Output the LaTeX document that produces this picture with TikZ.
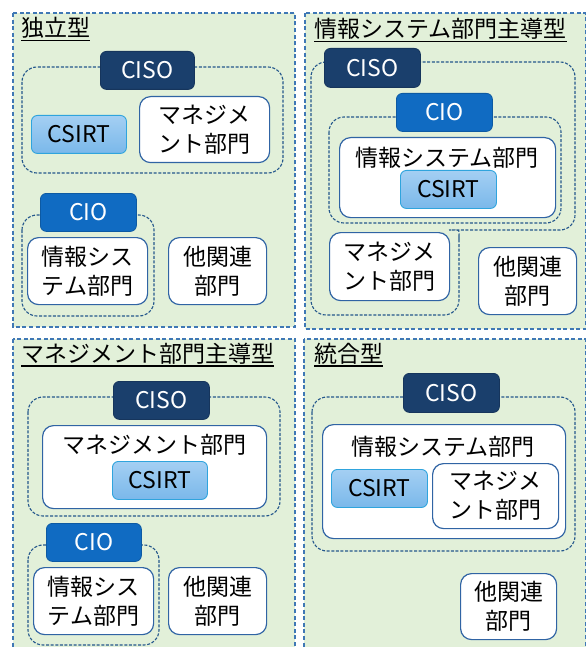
\documentclass[tikz,border=0pt]{standalone}
\usepackage{fontspec}
\setmainfont{Noto Sans CJK JP}
\definecolor{bggreen}{HTML}{E2F0D9}
\definecolor{paneldash}{HTML}{3F78B5}
\definecolor{grpdash}{HTML}{24578C}
\definecolor{deptline}{HTML}{3064A4}
\definecolor{cisofill}{HTML}{1A3F6C}
\definecolor{cisoline}{HTML}{16355C}
\definecolor{ciofill}{HTML}{106BC2}
\definecolor{cioline}{HTML}{0D5AA3}
\definecolor{csirttop}{HTML}{A4CFF3}
\definecolor{csirtbot}{HTML}{7AB8EA}
\definecolor{csirtline}{HTML}{2FA4DD}
\begin{document}
\begin{tikzpicture}[x=1pt,y=-1pt,
  every node/.style={font=\fontsize{23}{29}\selectfont},
  panel/.style={fill=bggreen,draw=paneldash,line width=1.4pt,dash pattern=on 4pt off 2.6pt},
  grp/.style={draw=grpdash,line width=1.1pt,dash pattern=on 3pt off 1.6pt,rounded corners=15pt},
  boxbase/.style={anchor=north west,inner sep=0pt,align=center},
  dept/.style={boxbase,draw=deptline,fill=white,line width=1.2pt,rounded corners=11pt},
  ciso/.style={boxbase,draw=cisoline,fill=cisofill,text=white,line width=0.8pt,rounded corners=6pt},
  cio/.style={boxbase,draw=cioline,fill=ciofill,text=white,line width=0.8pt,rounded corners=6pt},
  csirt/.style={boxbase,draw=csirtline,top color=csirttop,bottom color=csirtbot,line width=0.9pt,rounded corners=6pt},
  ttl/.style={anchor=base west,inner sep=0pt},
  uline/.style={line width=1.5pt,black}
]
\useasboundingbox (0,0) rectangle (586,647);
% panels
\draw[panel] (13,13) rectangle (295,327);
\draw[panel] (305,13) rectangle (585.5,329);
\draw[panel] (13,339) rectangle (295,665);
\draw[panel] (304,339) rectangle (585.5,665);

% ---------- Panel 1: 独立型
\node[ttl] (t1) at (21,36.5) {独立型};
\draw[uline] ([yshift=-4pt]t1.base west) -- ([yshift=-4pt]t1.base east);
\draw[grp] (22,67) rectangle (283,173);
\draw[grp] (22,215) rectangle (154,316);
\node[ciso,minimum width=94,minimum height=38] (ciso1) at (100,51) {CISO};
\node[csirt,minimum width=95,minimum height=38] (csirt1) at (31,115) {CSIRT};
\node[dept,minimum width=130,minimum height=66] (mg1) at (139,96) {マネジメ\\ント部門};
\node[cio,minimum width=96,minimum height=38] (cio1) at (40,193) {CIO};
\node[dept,minimum width=120,minimum height=67] (is1) at (27,237) {情報シス\\テム部門};
\node[dept,minimum width=98,minimum height=67] (ot1) at (168,237) {他関連\\部門};

% ---------- Panel 2: 情報システム部門主導型
\node[ttl] (t2) at (314,37.5) {情報システム部門主導型};
\draw[uline] ([yshift=-4pt]t2.base west) -- ([yshift=-4pt]t2.base east);
\draw[grp] (311,62) -- (575,62) -- (575,230) -- (464,230) arc[start angle=90,end angle=180,radius=5] -- (459,315) -- (311,315) -- cycle;
\draw[grp] (329,117) rectangle (561,223);
\node[ciso,minimum width=96,minimum height=39] (ciso2) at (324,48) {CISO};
\node[cio,minimum width=96,minimum height=38] (cio2) at (396,93) {CIO};
\node[dept,minimum width=216,minimum height=80] (is2) at (339,137) {};
\node[inner sep=0pt] (is2t) at (447,158) {情報システム部門};
\node[csirt,minimum width=96,minimum height=38] (csirt2) at (400,170) {CSIRT};
\node[dept,minimum width=120,minimum height=68] (mg2) at (329,232) {マネジメ\\ント部門};
\node[dept,minimum width=98,minimum height=67] (ot2) at (478,247) {他関連\\部門};

% ---------- Panel 3: マネジメント部門主導型
\node[ttl] (t3) at (21,362) {マネジメント部門主導型};
\draw[uline] ([yshift=-4pt]t3.base west) -- ([yshift=-4pt]t3.base east);
\draw[grp] (28,397) rectangle (280,516);
\draw[grp] (28,545) rectangle (159,645);
\node[ciso,minimum width=96,minimum height=38] (ciso3) at (113,381) {CISO};
\node[dept,minimum width=224,minimum height=83] (mg3) at (42,425) {};
\node[inner sep=0pt] (mg3t) at (154,445) {マネジメント部門};
\node[csirt,minimum width=95,minimum height=38] (csirt3) at (112,461) {CSIRT};
\node[cio,minimum width=95,minimum height=38] (cio3) at (46,523) {CIO};
\node[dept,minimum width=120,minimum height=67] (is3) at (33,567) {情報シス\\テム部門};
\node[dept,minimum width=98,minimum height=67] (ot3) at (168,567) {他関連\\部門};

% ---------- Panel 4: 統合型
\node[ttl] (t4) at (314,362) {統合型};
\draw[uline] ([yshift=-4pt]t4.base west) -- ([yshift=-4pt]t4.base east);
\draw[grp] (312,397) rectangle (575,551);
\node[ciso,minimum width=96,minimum height=39] (ciso4) at (403,373) {CISO};
\node[dept,minimum width=243,minimum height=114] (is4) at (322,424) {};
\node[inner sep=0pt] (is4t) at (443,447) {情報システム部門};
\node[csirt,minimum width=96,minimum height=38] (csirt4) at (331,469) {CSIRT};
\node[dept,minimum width=126,minimum height=65] (mg4) at (432,463) {マネジメ\\ント部門};
\node[dept,minimum width=96,minimum height=66] (ot4) at (460,573) {他関連\\部門};
\end{tikzpicture}
\end{document}
